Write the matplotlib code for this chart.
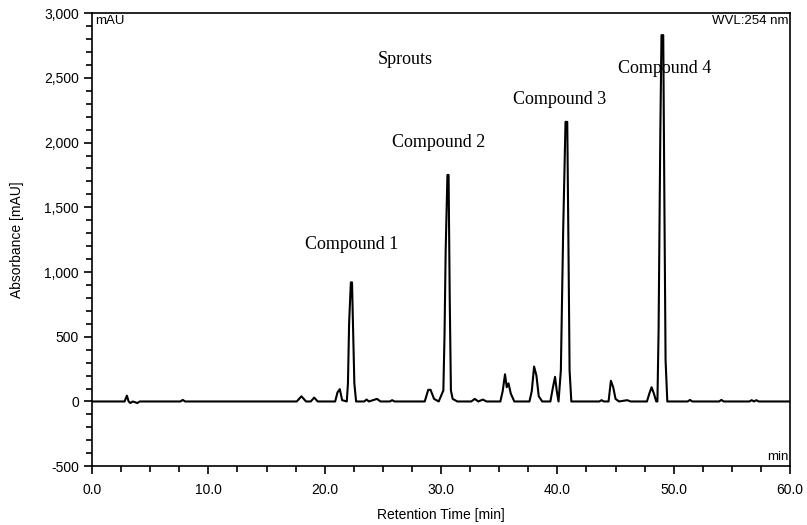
import matplotlib.pyplot as plt
from matplotlib.ticker import MultipleLocator, FuncFormatter

plt.rcParams['font.family'] = ['Liberation Sans', 'DejaVu Sans']

# chromatogram trace (min, mAU)
time_min = [0.0, 2.8, 3.0, 3.15, 3.3, 3.5, 3.9, 4.1, 7.6, 7.8, 8.0,
            17.6, 18.0, 18.4, 18.8, 19.1, 19.4, 20.9, 21.1, 21.3, 21.5, 21.9,
            22.0, 22.1, 22.25, 22.35, 22.45, 22.55, 22.7,
            23.4, 23.6, 23.8, 24.5, 24.8, 25.6, 25.8, 26.0,
            28.6, 28.9, 29.1, 29.4, 29.8,
            30.2, 30.3, 30.4, 30.55, 30.65, 30.75, 30.85, 31.0, 31.4,
            32.6, 32.9, 33.2, 33.6, 33.9,
            35.1, 35.3, 35.5, 35.65, 35.8, 36.0, 36.3,
            37.6, 37.8, 38.0, 38.2, 38.4, 38.7,
            39.4, 39.6, 39.8, 39.95, 40.1,
            40.3, 40.5, 40.7, 40.85, 40.95, 41.05, 41.2,
            43.6, 43.8, 44.0, 44.4, 44.6, 44.8, 45.0, 45.3, 46.0, 46.3,
            47.7, 47.9, 48.1, 48.3, 48.5,
            48.6, 48.7, 48.85, 48.95, 49.1, 49.2, 49.3, 49.45,
            51.2, 51.4, 51.6, 53.9, 54.1, 54.3,
            56.5, 56.7, 56.9, 57.1, 57.3, 60.0]
absorbance = [0, 0, 45, 0, -12, 0, -12, 0, 0, 12, 0,
              0, 40, 0, 0, 30, 0, 0, 70, 95, 10, 0,
              140, 605, 920, 920, 527, 140, 0,
              0, 15, 0, 20, 0, 0, 10, 0,
              0, 90, 90, 20, 0,
              85, 510, 1170, 1750, 1750, 780, 85, 20, 0,
              0, 20, 0, 15, 0,
              0, 80, 210, 110, 140, 60, 0,
              0, 80, 270, 200, 40, 0,
              0, 100, 190, 80, 0,
              240, 1325, 2160, 2160, 1230, 240, 0,
              0, 10, 0, 0, 160, 110, 20, 0, 10, 0,
              0, 60, 110, 60, 0,
              0, 550, 2085, 2830, 2830, 1520, 320, 0,
              0, 12, 0, 0, 12, 0,
              0, 10, 0, 10, 0, 0]

# peak labels
labels = ["Sprouts", "Compound 1", "Compound 2", "Compound 3", "Compound 4"]
label_t = [26.9, 22.3, 29.8, 40.2, 49.2]
label_v = [2640, 1210, 2000, 2330, 2570]

fig = plt.figure(figsize=(8.07, 5.25), dpi=100)
ax = fig.add_axes([0.114, 0.112, 0.865, 0.863])

ax.plot(time_min, absorbance, color="black", lw=1.5)

ax.set_xlim(0, 60)
ax.set_ylim(-500, 3000)
ax.xaxis.set_major_locator(MultipleLocator(10))
ax.xaxis.set_minor_locator(MultipleLocator(2.5))
ax.yaxis.set_major_locator(MultipleLocator(500))
ax.yaxis.set_minor_locator(MultipleLocator(100))
ax.xaxis.set_major_formatter(FuncFormatter(lambda v, p: f"{v:.1f}"))
ax.yaxis.set_major_formatter(FuncFormatter(lambda v, p: f"{int(v):,}"))
ax.tick_params(which="major", direction="out", length=6, width=1.2,
               labelsize=10)
ax.tick_params(which="minor", direction="out", length=4, width=1.2)
ax.tick_params(axis="x", pad=6)
for s in ax.spines.values():
    s.set_linewidth(1.2)

ax.set_xlabel("Retention Time [min]", fontsize=10, labelpad=8)
ax.set_ylabel("Absorbance [mAU]", fontsize=10, labelpad=14)

ax.text(0.005, 0.995, "mAU", transform=ax.transAxes, ha="left", va="top",
        fontsize=9.5)
ax.text(0.998, 0.995, "WVL:254 nm", transform=ax.transAxes, ha="right",
        va="top", fontsize=9.5)
ax.text(0.998, 0.008, "min", transform=ax.transAxes, ha="right",
        va="bottom", fontsize=9.5)

for txt, t, v in zip(labels, label_t, label_v):
    ax.text(t, v, txt, ha="center", va="center", fontsize=13,
            family="Liberation Serif")

fig.savefig("out.png", dpi=100)
